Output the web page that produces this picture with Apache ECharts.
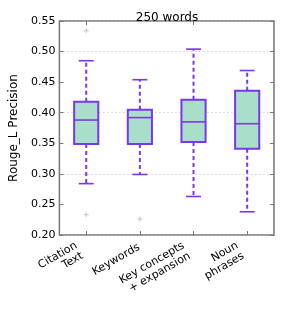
<!DOCTYPE html>
<html><head><meta charset="utf-8">
<script src="https://cdn.jsdelivr.net/npm/echarts@6/dist/echarts.min.js"></script>
<style>html,body{margin:0;padding:0;background:#fff}#c{width:288px;height:310px}</style>
</head><body><div id="c"></div>
<script>
var categories = ['Citation\nText', 'Keywords', 'Key concepts\n+ expansion', 'Noun\nphrases'];
var whiskerLow = [0.284, 0.299, 0.263, 0.238];
var q1 = [0.349, 0.349, 0.352, 0.341];
var median = [0.388, 0.392, 0.385, 0.382];
var q3 = [0.418, 0.405, 0.421, 0.436];
var whiskerHigh = [0.485, 0.454, 0.504, 0.469];
var outliers = [[0, 0.534], [0, 0.233], [1, 0.226]];

var purple = '#7b36f0';
var fill = '#a9dfc8';
var font = 'DejaVu Sans';

var boxData = categories.map(function (c, i) {
  return [i, whiskerLow[i], q1[i], median[i], q3[i], whiskerHigh[i]];
});

var catItems = categories.map(function (c) {
  var two = c.indexOf('\n') >= 0;
  return {value: c, textStyle: {padding: two ? [0, 8, 0, 0] : [0, 1, 0, 0]}};
});

function renderBox(params, api) {
  var i = api.value(0);
  var lo = api.coord([i, api.value(1)]);
  var b1 = api.coord([i, api.value(2)]);
  var md = api.coord([i, api.value(3)]);
  var b3 = api.coord([i, api.value(4)]);
  var hi = api.coord([i, api.value(5)]);
  var bw = api.size([1, 0])[0] * 0.45;
  var cw = bw * 0.62;
  var x = lo[0];
  var dash = {stroke: purple, lineWidth: 2, lineDash: [4, 3]};
  var solid = {stroke: purple, lineWidth: 1.6};
  return {
    type: 'group',
    children: [
      {type: 'line', shape: {x1: x, y1: b1[1], x2: x, y2: lo[1]}, style: dash},
      {type: 'line', shape: {x1: x, y1: b3[1], x2: x, y2: hi[1]}, style: dash},
      {type: 'line', shape: {x1: x - cw / 2, y1: lo[1], x2: x + cw / 2, y2: lo[1]}, style: solid},
      {type: 'line', shape: {x1: x - cw / 2, y1: hi[1], x2: x + cw / 2, y2: hi[1]}, style: solid},
      {type: 'rect', shape: {x: x - bw / 2, y: b3[1], width: bw, height: b1[1] - b3[1]},
        style: {fill: fill, stroke: purple, lineWidth: 2}},
      {type: 'line', shape: {x1: x - bw / 2, y1: md[1], x2: x + bw / 2, y2: md[1]}, style: solid}
    ]
  };
}

var chart = echarts.init(document.getElementById('c'));
chart.setOption({
  animation: false,
  title: {
    text: '250 words', left: 162, top: 7, textAlign: 'center',
    textStyle: {fontFamily: font, fontSize: 12, fontWeight: 'normal', color: '#000'}
  },
  grid: {left: 58, right: 14, top: 21, bottom: 75, show: true, borderColor: '#777', borderWidth: 1.5, backgroundColor: 'transparent'},
  xAxis: [{
    type: 'category', data: catItems, boundaryGap: true,
    axisLine: {show: false},
    axisTick: {show: true, inside: true, length: 4, alignWithLabel: true, lineStyle: {color: '#777'}},
    axisLabel: {rotate: 30, fontFamily: font, fontSize: 11, color: '#000', margin: 11, lineHeight: 12, interval: 0},
    splitLine: {show: false}
  }, {
    type: 'category', data: categories, position: 'top', boundaryGap: true,
    axisLine: {show: false},
    axisTick: {show: true, inside: true, length: 4, alignWithLabel: true, lineStyle: {color: '#777'}},
    axisLabel: {show: false}
  }],
  yAxis: [{
    type: 'value', min: 0.20, max: 0.55, interval: 0.05,
    name: 'Rouge_L Precision', nameLocation: 'middle', nameGap: 30,
    nameTextStyle: {fontFamily: font, fontSize: 12, color: '#000'},
    axisLine: {show: false},
    axisTick: {show: true, inside: true, length: 4, lineStyle: {color: '#777'}},
    axisLabel: {fontFamily: font, fontSize: 11, color: '#000', margin: 4,
      formatter: function (v) { return v.toFixed(2); }},
    splitLine: {show: false}
  }, {
    type: 'value', min: 0.20, max: 0.55, interval: 0.05, position: 'right',
    axisLine: {show: false},
    axisTick: {show: true, inside: true, length: 4, lineStyle: {color: '#777'}},
    axisLabel: {show: false}, splitLine: {show: false}
  }, {
    type: 'value', min: 0.20, max: 0.55, interval: 0.1, show: true,
    axisLine: {show: false}, axisTick: {show: false}, axisLabel: {show: false},
    splitLine: {show: true, lineStyle: {color: '#bbb', type: [1, 3], width: 1}}
  }],
  series: [{
    type: 'custom', xAxisIndex: 0, yAxisIndex: 0,
    renderItem: renderBox, data: boxData, encode: {x: 0, y: [1, 2, 3, 4, 5]}, z: 2
  }, {
    type: 'scatter', xAxisIndex: 0, yAxisIndex: 0, data: outliers,
    symbol: 'path://M2,0L3,0L3,2L5,2L5,3L3,3L3,5L2,5L2,3L0,3L0,2L2,2Z', symbolSize: 5,
    itemStyle: {color: '#c0a0f5'}, z: 3
  }]
});
</script></body></html>
